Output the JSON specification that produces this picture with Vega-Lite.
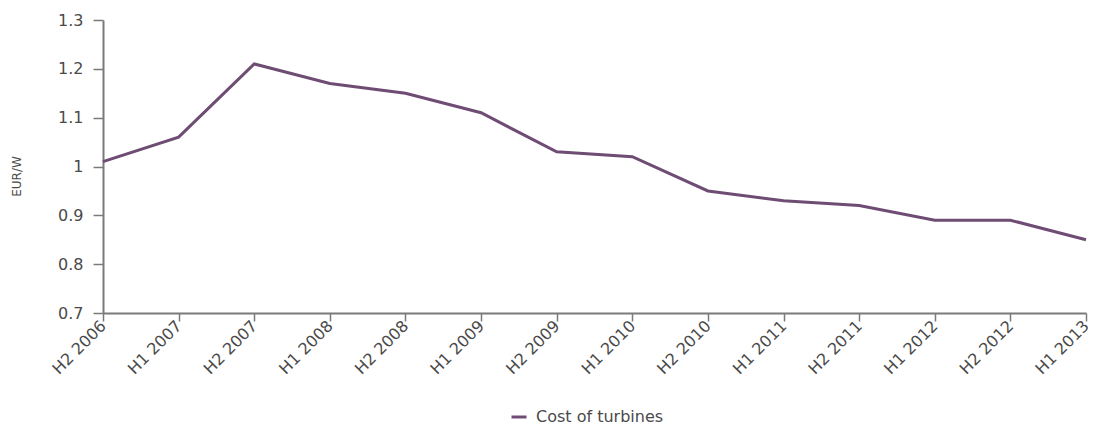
{
  "$schema": "https://vega.github.io/schema/vega-lite/v6.json",
  "autosize": "none",
  "width": 983,
  "height": 293,
  "padding": {"left": 103, "top": 20, "right": 10, "bottom": 113},
  "background": "white",
  "config": {
    "view": {"stroke": null},
    "font": "DejaVu Sans"
  },
  "data": {
    "values": [
      {"period": "H2 2006", "cost": 1.01},
      {"period": "H1 2007", "cost": 1.06},
      {"period": "H2 2007", "cost": 1.21},
      {"period": "H1 2008", "cost": 1.17},
      {"period": "H2 2008", "cost": 1.15},
      {"period": "H1 2009", "cost": 1.11},
      {"period": "H2 2009", "cost": 1.03},
      {"period": "H1 2010", "cost": 1.02},
      {"period": "H2 2010", "cost": 0.95},
      {"period": "H1 2011", "cost": 0.93},
      {"period": "H2 2011", "cost": 0.92},
      {"period": "H1 2012", "cost": 0.89},
      {"period": "H2 2012", "cost": 0.89},
      {"period": "H1 2013", "cost": 0.85}
    ]
  },
  "mark": {"type": "line", "strokeWidth": 3},
  "encoding": {
    "x": {
      "field": "period",
      "type": "ordinal",
      "sort": null,
      "scale": {"type": "point", "padding": 0},
      "axis": {
        "title": null,
        "labelAngle": -45,
        "labelAlign": "right",
        "labelBaseline": "middle",
        "labelFontSize": 16,
        "labelColor": "#4a4a4a",
        "labelPadding": 2,
        "domainColor": "#7a7a7a",
        "domainWidth": 2,
        "tickColor": "#7a7a7a",
        "tickWidth": 1.5,
        "tickSize": 8,
        "grid": false
      }
    },
    "y": {
      "field": "cost",
      "type": "quantitative",
      "scale": {"domain": [0.7, 1.3], "nice": false, "zero": false},
      "axis": {
        "title": "EUR/W",
        "titleFontSize": 12,
        "titleFontWeight": "normal",
        "titleColor": "#4a4a4a",
        "titleX": -80,
        "titleY": 156,
        "values": [0.7, 0.8, 0.9, 1, 1.1, 1.2, 1.3],
        "format": "~g",
        "labelFontSize": 16,
        "labelColor": "#4a4a4a",
        "labelPadding": 10,
        "domainColor": "#7a7a7a",
        "domainWidth": 2,
        "tickColor": "#7a7a7a",
        "tickWidth": 1.5,
        "tickSize": 10,
        "grid": false
      }
    },
    "color": {
      "datum": "Cost of turbines",
      "scale": {"range": ["#6e4c73"]},
      "legend": {
        "title": null,
        "orient": "none",
        "legendX": 407,
        "legendY": 388,
        "symbolType": "stroke",
        "symbolStrokeWidth": 3,
        "symbolSize": 225,
        "labelFontSize": 16,
        "labelColor": "#4a4a4a",
        "labelOffset": 8
      }
    }
  }
}
